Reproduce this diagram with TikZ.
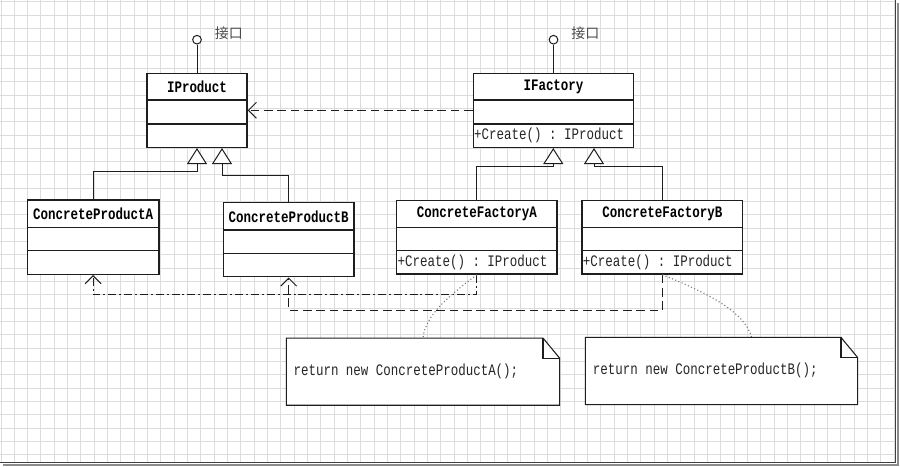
\documentclass[tikz,border=0pt]{standalone}
\usepackage{fontspec}
\setmonofont[FakeStretch=0.78]{Liberation Mono}
\newfontfamily\cjk{Noto Sans CJK SC}
\usetikzlibrary{arrows.meta,calc}
\definecolor{gridc}{HTML}{DCDCDC}
\definecolor{boxc}{HTML}{1E1E1E}
\newcommand\umlcls[8]{%
  \node[clsbox, minimum width={(#4-#2)*0.75pt}, minimum height={(#5-#3)*0.75pt}] (#1) at ({(#2+#4)/2},{(#3+#5)/2}) {};
  \draw[sepline] (#1.west |- 0,#6) -- (#1.east |- 0,#6);
  \draw[sepline] (#1.west |- 0,#7) -- (#1.east |- 0,#7);
  \node[ttl] (#1-t) at ({(#2+#4)/2},{(#3+#6)/2}) {#8};
}
\begin{document}
\begin{tikzpicture}[x=0.75pt,y=-0.75pt,
  clsbox/.style={draw=boxc, line width=1.1pt, fill=white, inner sep=0pt},
  sepline/.style={draw=boxc, line width=1.1pt},
  ttl/.style={font=\ttfamily\bfseries\fontsize{12}{14}\selectfont, inner sep=0pt, text=black},
  opt/.style={font=\ttfamily\fontsize{12}{14}\selectfont, inner sep=0.5pt, anchor=west, text=black!85},
  notetxt/.style={font=\ttfamily\fontsize{12}{14}\selectfont, inner sep=0pt, anchor=west, text=black!85},
  lolli/.style={circle, draw=boxc, line width=0.75pt, fill=white, minimum size=6.5pt, inner sep=0pt},
  lbl/.style={font=\cjk\fontsize{10.5}{12}\selectfont, text=black!70, inner sep=0pt, anchor=west},
  gen/.style={line width=0.75pt, draw=boxc, -{Triangle[open, fill=white, length=12pt, width=15pt]}},
  dep/.style={line width=0.75pt, draw=boxc, -{Straight Barb[length=6pt, width=12pt]}},
  dashdot/.style={dash pattern=on 6pt off 2.2pt on 1.5pt off 2.2pt},
  dashd/.style={dash pattern=on 6.5pt off 3.5pt},
  noteline/.style={draw=boxc, line width=0.8pt, fill=white},
  dotl/.style={draw=black!55, line width=0.8pt, dash pattern=on 0.8pt off 1.8pt},
  ]
\useasboundingbox (0,0) rectangle (900,467);
\fill[white] (0,0) rectangle (900,467);
% grid
\begin{scope}
  \clip (0,0) rectangle (895,462);
  \foreach \i in {0,...,67} {
    \draw[gridc, line width=0.75pt] ({1+13.33*\i},0) -- ({1+13.33*\i},462);
  }
  \foreach \i in {0,...,35} {
    \draw[gridc, line width=0.75pt] (0,{1.7+13.33*\i}) -- (895,{1.7+13.33*\i});
  }
\end{scope}
% frame with shadow
\draw[black!45, line width=1.5pt] (897.5,3) -- (897.5,464.5) -- (3,464.5);
\draw[black!75, line width=1pt] (895.5,0) -- (895.5,462.5) -- (0,462.5);

% classes
\umlcls{ip}{147}{73.3}{247}{147.3}{100}{124}{IProduct}
\umlcls{if}{473.3}{73.3}{633.7}{147.3}{100}{124}{IFactory}
\node[opt] (if-op) at (473.3,135.6) {+Create() : IProduct};
\umlcls{cpa}{27.3}{200}{159}{274.3}{227.3}{250.7}{ConcreteProductA}
\umlcls{cpb}{223.3}{202.7}{354}{276.7}{230}{253.7}{ConcreteProductB}
\umlcls{cfa}{396.7}{200.7}{557}{274}{227.3}{250.7}{ConcreteFactoryA}
\node[opt] (cfa-op) at (396.7,262.3) {+Create() : IProduct};
\umlcls{cfb}{582}{200.7}{742.7}{274}{227.3}{250.7}{ConcreteFactoryB}
\node[opt] (cfb-op) at (582,262.3) {+Create() : IProduct};

% lollipops
\node[lolli] (ipl) at (197,39.7) {};
\node[lolli] (ifl) at (553.5,39.7) {};
\draw[line width=0.75pt, boxc] (ipl.south) -- (ip.north);
\draw[line width=0.75pt, boxc] (ifl.south) -- (if.north);
\node[lbl] (ipl-t) at (214.5,33) {接口};
\node[lbl] (ifl-t) at (571,33) {接口};

% dependency IFactory -> IProduct
\draw[dep, dashd] (if.west |- 0,110.3) -- (ip.east |- 0,110.3);

% generalizations
\draw[gen] (cpa.north) -- ++(0,-27.3) -| (ip.south);
\draw[gen] (cpb.north) -- ++(0,-26) -| ($(ip.south)+(25,0)$);
\draw[gen] (cfa.north) -- ++(0,-33) -| ($(if.south)+(-0.2,0)$);
\draw[gen] (cfb.north) -- ++(0,-33) -| ($(if.south)+(40.5,0)$);

% creation dependencies
\draw[dep, dashdot] (cfa.south) -- ++(0,20) -| (cpa.south);
\draw[dep, dashd] (cfb.south) -- ++(0,36) -| (cpb.south);

% notes
\node[minimum width={272.6*0.75pt}, minimum height={66.7*0.75pt}, inner sep=0pt] (na) at (423,371.65) {};
\node[minimum width={271.6*0.75pt}, minimum height={66.6*0.75pt}, inner sep=0pt] (nb) at (721.5,371) {};
\coordinate (nac) at (423,338.3);
\coordinate (nbc) at (751.7,337.7);
\draw[dotl] (cfa.south) .. controls (450,295) and (425,315) .. (nac);
\draw[dotl] (cfb.south) .. controls (700,290) and (745,310) .. (nbc);
\foreach \n in {na,nb} {
  \draw[noteline] (\n.north west) -- ($(\n.north east)+(-16.6,0)$) -- ($(\n.north east)+(0,20)$) -- (\n.south east) -- (\n.south west) -- cycle;
  \draw[noteline, fill=none] ($(\n.north east)+(-16.6,0)$) |- ($(\n.north east)+(0,20)$);
}
\node[notetxt] (na-t) at (293.3,371) {return new ConcreteProductA();};
\node[notetxt] (nb-t) at (592.7,370) {return new ConcreteProductB();};
\end{tikzpicture}
\end{document}
